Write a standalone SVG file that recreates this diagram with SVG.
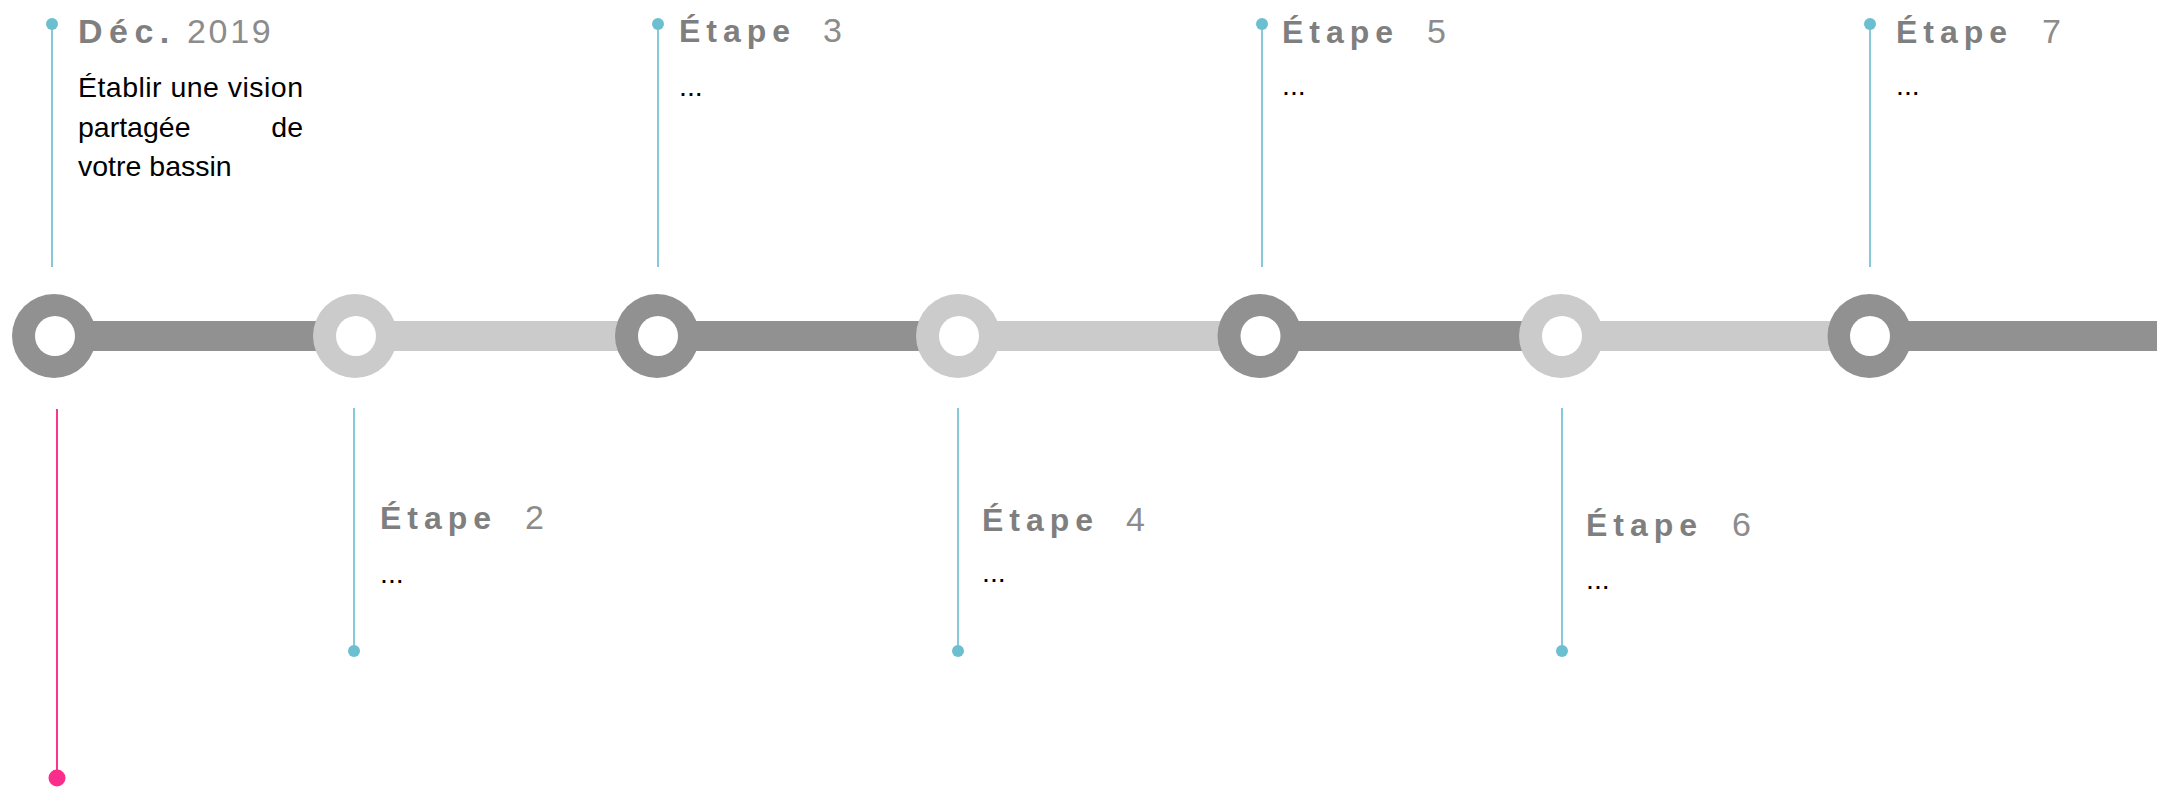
<svg xmlns="http://www.w3.org/2000/svg" width="2157" height="787" viewBox="0 0 2157 787">
<style>
.bar-d{fill:#919191}
.bar-l{fill:#cbcbcb}
.ring-d{fill:#919191}
.ring-l{fill:#cbcbcb}
.hole{fill:#ffffff}
.stem{stroke:#86c9d8;stroke-width:2;fill:none}
.dot{fill:#6cbfd1}
.pink{stroke:#f7388e;stroke-width:2;fill:none}
.pdot{fill:#fb2d8c}
.t{font-family:"Liberation Sans",Arial,sans-serif;font-weight:bold;font-size:32px;fill:#7f7f7f;letter-spacing:6px}
.n{font-family:"Liberation Sans",Arial,sans-serif;font-weight:normal;font-size:34px;fill:#8c8c8c;letter-spacing:2.7px}
.d{font-family:"Liberation Sans",Arial,sans-serif;font-weight:bold;font-size:34px;fill:#7f7f7f;letter-spacing:6.5px}
.b{font-family:"Liberation Sans",Arial,sans-serif;font-size:28.5px;fill:#000000}
</style>
<rect width="2157" height="787" fill="#ffffff"/>
<g id="connectors">
<rect class="bar-d" x="54" y="321" width="301" height="30"/>
<rect class="bar-l" x="355" y="321" width="302" height="30"/>
<rect class="bar-d" x="657" y="321" width="301" height="30"/>
<rect class="bar-l" x="958" y="321" width="302" height="30"/>
<rect class="bar-d" x="1259" y="321" width="302" height="30"/>
<rect class="bar-l" x="1561" y="321" width="309" height="30"/>
<rect class="bar-d" x="1870" y="321" width="287" height="30"/>
<line class="stem" x1="52" y1="24" x2="52" y2="267"/>
<circle class="dot" cx="52" cy="24" r="6"/>
<line class="pink" x1="57" y1="409" x2="57" y2="778"/>
<circle class="pdot" cx="57" cy="778" r="8.5"/>
<line class="stem" x1="354" y1="408" x2="354" y2="651"/>
<circle class="dot" cx="354" cy="651" r="6"/>
<line class="stem" x1="658" y1="24" x2="658" y2="267"/>
<circle class="dot" cx="658" cy="24" r="6"/>
<line class="stem" x1="958" y1="408" x2="958" y2="651"/>
<circle class="dot" cx="958" cy="651" r="6"/>
<line class="stem" x1="1262" y1="24" x2="1262" y2="267"/>
<circle class="dot" cx="1262" cy="24" r="6"/>
<line class="stem" x1="1562" y1="408" x2="1562" y2="651"/>
<circle class="dot" cx="1562" cy="651" r="6"/>
<line class="stem" x1="1870" y1="24" x2="1870" y2="267"/>
<circle class="dot" cx="1870" cy="24" r="6"/>
</g>
<g id="node1">
<circle class="ring-d" cx="54" cy="336" r="42"/>
<circle class="hole" cx="55" cy="336" r="20"/>
<text class="d" x="78" y="43">Déc.<tspan class="n" x="187">2019</tspan></text>
<text class="b" x="78" y="97" textLength="225" lengthAdjust="spacing">Établir une vision</text>
<text class="b" x="78" y="137">partagée</text>
<text class="b" x="303" y="137" text-anchor="end">de</text>
<text class="b" x="78" y="176">votre bassin</text>
</g>
<g id="node2">
<circle class="ring-l" cx="355" cy="336" r="42"/>
<circle class="hole" cx="356" cy="336" r="20"/>
<text class="t" x="380" y="529">Étape<tspan class="n" x="525">2</tspan></text>
<text class="b" x="380" y="583">...</text>
</g>
<g id="node3">
<circle class="ring-d" cx="657" cy="336" r="42"/>
<circle class="hole" cx="658" cy="336" r="20"/>
<text class="t" x="679" y="42">Étape<tspan class="n" x="823">3</tspan></text>
<text class="b" x="679" y="96">...</text>
</g>
<g id="node4">
<circle class="ring-l" cx="958" cy="336" r="42"/>
<circle class="hole" cx="959" cy="336" r="20"/>
<text class="t" x="982" y="531">Étape<tspan class="n" x="1126">4</tspan></text>
<text class="b" x="982" y="582">...</text>
</g>
<g id="node5">
<circle class="ring-d" cx="1259.5" cy="336" r="42"/>
<circle class="hole" cx="1260.5" cy="336" r="20"/>
<text class="t" x="1282" y="43">Étape<tspan class="n" x="1427">5</tspan></text>
<text class="b" x="1282" y="95">...</text>
</g>
<g id="node6">
<circle class="ring-l" cx="1561" cy="336" r="42"/>
<circle class="hole" cx="1562" cy="336" r="20"/>
<text class="t" x="1586" y="536">Étape<tspan class="n" x="1732">6</tspan></text>
<text class="b" x="1586" y="589">...</text>
</g>
<g id="node7">
<circle class="ring-d" cx="1869.5" cy="336" r="42"/>
<circle class="hole" cx="1870" cy="336" r="20"/>
<text class="t" x="1896" y="43">Étape<tspan class="n" x="2042">7</tspan></text>
<text class="b" x="1896" y="95">...</text>
</g>
</svg>
